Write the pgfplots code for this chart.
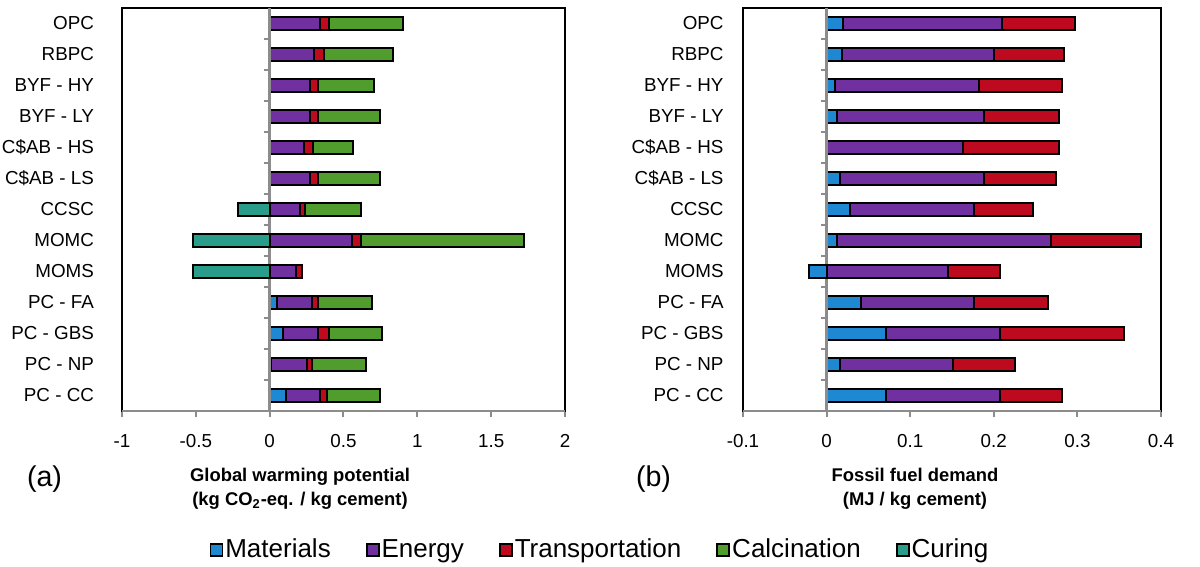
\documentclass[border=0pt]{standalone}
\usepackage{fontspec}
\setmainfont{Liberation Sans}
\usepackage{pgfplots}
\pgfplotsset{compat=1.18}
\definecolor{cMat}{RGB}{30,136,210}
\definecolor{cEne}{RGB}{112,48,160}
\definecolor{cTra}{RGB}{190,10,30}
\definecolor{cCal}{RGB}{80,156,44}
\definecolor{cCur}{RGB}{42,157,138}
\definecolor{cGray}{RGB}{140,140,140}
\pgfplotsset{
  base/.style={scale only axis, height=201.5pt, ymin=-0.5, ymax=12.5, y dir=reverse,
    anchor=south west, /pgf/number format/assume math mode=true},
  barsty/.style={draw=black, line width=1pt},
}
\begin{document}
\begin{tikzpicture}
\useasboundingbox (-61pt,-78pt) rectangle (539pt,205.5pt);
% ---------------- (a) GWP ----------------
\begin{axis}[base, at={(0pt,0pt)}, width=221.5pt, xmin=-1, xmax=2,
  xbar stacked, bar width=6.3pt,
  xtick={-1,-0.5,0,0.5,1,1.5,2},
  ytick={0,...,12},
  yticklabels={OPC,RBPC,BYF - HY,BYF - LY,C\$AB - HS,C\$AB - LS,CCSC,MOMC,MOMS,PC - FA,PC - GBS,PC - NP,PC - CC},
  axis line style={black, line width=1pt},
  xtick pos=bottom, tick align=outside,
  x tick style={cGray, line width=1pt}, major tick length=3pt,
  y tick style={draw=none},
  ticklabel style={font=\fontsize{9.4}{11}\selectfont},
  yticklabel style={xshift=-7.5pt},
  xticklabel style={yshift=-5pt},
  legend columns=5,
  legend style={at={(1.081,-0.345)}, anchor=center, draw=none, fill=none,
    font=\fontsize{13}{15}\selectfont,
    /tikz/every even column/.append style={column sep=15.5pt},
    /tikz/every odd column/.append style={column sep=-1pt}},
  legend image code/.code={\draw[#1, line width=0.9pt] (0pt,-3pt) rectangle (6pt,3pt);},
]
\draw[cGray, line width=1.2pt] (axis cs:0,-0.5) -- (axis cs:0,12.5);
\pgfplotsinvokeforeach{0.5,1.5,2.5,3.5,4.5,5.5,6.5,7.5,8.5,9.5,10.5,11.5,12.5}{
  \draw[cGray, line width=1pt] (axis cs:0,#1) -- ++(-3pt,0pt);}
\addplot[barsty, fill=cMat] coordinates {(0.005,0) (0.005,1) (0.005,2) (0.005,3) (0.005,4) (0.005,5) (0.005,6) (0.005,7) (0.005,8) (0.052,9) (0.091,10) (0.010,11) (0.109,12)};
\addlegendentry{Materials}
\addplot[barsty, fill=cEne] coordinates {(0.337,0) (0.298,1) (0.267,2) (0.267,3) (0.230,4) (0.267,5) (0.199,6) (0.554,7) (0.174,8) (0.236,9) (0.235,10) (0.244,11) (0.233,12)};
\addlegendentry{Energy}
\addplot[barsty, fill=cTra] coordinates {(0.057,0) (0.062,1) (0.056,2) (0.056,3) (0.057,4) (0.056,5) (0.034,6) (0.059,7) (0.041,8) (0.040,9) (0.075,10) (0.034,11) (0.043,12)};
\addlegendentry{Transportation}
\addplot[barsty, fill=cCal] coordinates {(0.507,0) (0.470,1) (0.381,2) (0.417,3) (0.272,4) (0.417,5) (0.378,6) (1.103,7) (0,8) (0.362,9) (0.362,10) (0.366,11) (0.360,12)};
\addlegendentry{Calcination}
\addlegendimage{barsty, fill=cCur}
\addlegendentry{Curing}
\draw[cGray, line width=1pt] (axis description cs:0,0) -- (axis description cs:1,0);
\end{axis}
% negative part (a)
\begin{axis}[base, at={(0pt,0pt)}, width=221.5pt, xmin=-1, xmax=2, hide axis,
  xbar, bar width=6.3pt]
\addplot[barsty, fill=cCur] coordinates {(-0.215,6) (-0.521,7) (-0.521,8)};
\end{axis}
% ---------------- (b) Fossil fuel ----------------
\begin{axis}[base, at={(310.5pt,0pt)}, width=209pt, xmin=-0.1, xmax=0.4,
  xbar stacked, bar width=6.3pt,
  xtick={-0.1,0,0.1,0.2,0.3,0.4},
  ytick={0,...,12},
  yticklabels={OPC,RBPC,BYF - HY,BYF - LY,C\$AB - HS,C\$AB - LS,CCSC,MOMC,MOMS,PC - FA,PC - GBS,PC - NP,PC - CC},
  axis line style={black, line width=1pt},
  xtick pos=bottom, tick align=outside,
  x tick style={cGray, line width=1pt}, major tick length=3pt,
  y tick style={draw=none},
  ticklabel style={font=\fontsize{9.4}{11}\selectfont},
  yticklabel style={xshift=-3.2pt},
  xticklabel style={yshift=-5pt},
]
\draw[cGray, line width=1.2pt] (axis cs:0,-0.5) -- (axis cs:0,12.5);
\pgfplotsinvokeforeach{0.5,1.5,2.5,3.5,4.5,5.5,6.5,7.5,8.5,9.5,10.5,11.5,12.5}{
  \draw[cGray, line width=1pt] (axis cs:0,#1) -- ++(-3pt,0pt);}
\addplot[barsty, fill=cMat] coordinates {(0.0191,0) (0.0190,1) (0.0096,2) (0.0128,3) (0,4) (0.0156,5) (0.0283,6) (0.0124,7) (0,8) (0.0407,9) (0.0714,10) (0.0156,11) (0.0714,12)};
\addplot[barsty, fill=cEne] coordinates {(0.1906,0) (0.1816,1) (0.1722,2) (0.1754,3) (0.1635,4) (0.1726,5) (0.1475,6) (0.2559,7) (0.1451,8) (0.1355,9) (0.1355,10) (0.1359,11) (0.1355,12)};
\addplot[barsty, fill=cTra] coordinates {(0.0870,0) (0.0837,1) (0.0993,2) (0.0897,3) (0.1144,4) (0.0861,5) (0.0710,6) (0.1077,7) (0.0618,8) (0.0889,9) (0.1484,10) (0.0742,11) (0.0742,12)};
\draw[cGray, line width=1pt] (axis description cs:0,0) -- (axis description cs:1,0);
\end{axis}
\begin{axis}[base, at={(310.5pt,0pt)}, width=209pt, xmin=-0.1, xmax=0.4, hide axis,
  xbar, bar width=6.3pt]
\addplot[barsty, fill=cMat] coordinates {(-0.0211,8)};
\end{axis}
% ---------------- labels ----------------
\node[align=center, font=\bfseries\fontsize{9.2}{11.75}\selectfont] at (89pt,-39pt)
  {Global warming potential\\(kg CO\textsubscript{2}-eq. / kg cement)};
\node[align=center, font=\bfseries\fontsize{9.2}{11.75}\selectfont] at (396.5pt,-39pt)
  {Fossil fuel demand\\(MJ / kg cement)};
\node[font=\fontsize{14.3}{16}\selectfont] at (-38.75pt,-34.25pt) {(a)};
\node[font=\fontsize{14.3}{16}\selectfont] at (265.75pt,-34.25pt) {(b)};
\end{tikzpicture}
\end{document}
